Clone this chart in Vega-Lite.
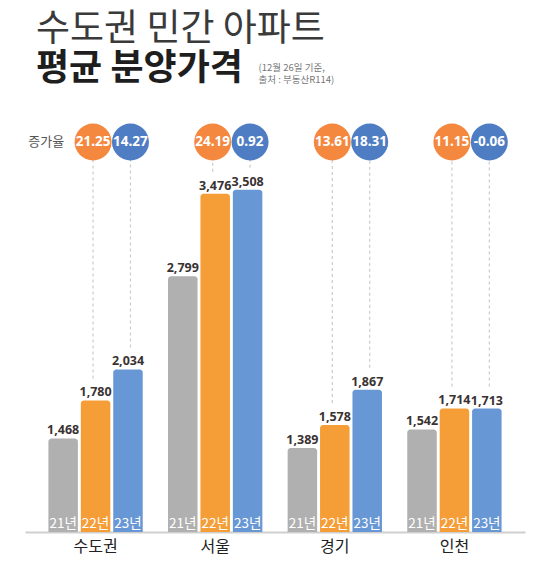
{
  "$schema": "https://vega.github.io/schema/vega-lite/v6.json",
  "width": 500,
  "height": 390,
  "autosize": {"type": "none"},
  "padding": {"left": 25, "top": 142, "right": 15, "bottom": 43},
  "background": "white",
  "config": {"view": {"stroke": null}, "font": "Noto Sans CJK KR"},
  "title": {
    "text": "수도권 민간 아파트",
    "subtitle": "평균 분양가격",
    "anchor": "start",
    "frame": "group",
    "font": "Noto Sans CJK KR",
    "fontSize": 37,
    "fontWeight": "normal",
    "color": "#3a3a3a",
    "subtitleFont": "Noto Sans CJK KR",
    "subtitleFontSize": 36,
    "subtitleFontWeight": "bold",
    "subtitleColor": "#1e1e1e",
    "subtitlePadding": 3,
    "offset": -25,
    "dx": 11
  },
  "data": {
    "values": [
      {"region": "수도권", "year": "21년", "value": 1468},
      {"region": "수도권", "year": "22년", "value": 1780, "rate": 21.25},
      {"region": "수도권", "year": "23년", "value": 2034, "rate": 14.27},
      {"region": "서울", "year": "21년", "value": 2799},
      {"region": "서울", "year": "22년", "value": 3476, "rate": 24.19},
      {"region": "서울", "year": "23년", "value": 3508, "rate": 0.92},
      {"region": "경기", "year": "21년", "value": 1389},
      {"region": "경기", "year": "22년", "value": 1578, "rate": 13.61},
      {"region": "경기", "year": "23년", "value": 1867, "rate": 18.31},
      {"region": "인천", "year": "21년", "value": 1542},
      {"region": "인천", "year": "22년", "value": 1714, "rate": 11.15},
      {"region": "인천", "year": "23년", "value": 1713, "rate": -0.06}
    ]
  },
  "encoding": {
    "x": {
      "field": "region",
      "type": "nominal",
      "sort": null,
      "scale": {"paddingInner": 0, "paddingOuter": 0.09},
      "axis": {
        "title": null,
        "labelAngle": 0,
        "labelFont": "Noto Sans CJK KR",
        "labelFontSize": 16,
        "labelFontWeight": "normal",
        "labelColor": "#222222",
        "labelPadding": 6,
        "ticks": false,
        "tickSize": 0,
        "domainColor": "#cfcfcf",
        "domainWidth": 2,
        "grid": false
      }
    }
  },
  "layer": [
    {
      "encoding": {
        "xOffset": {"field": "year", "type": "nominal", "scale": {"paddingInner": 0.09, "paddingOuter": 0.39}}
      },
      "layer": [
        {
          "mark": {"type": "bar", "cornerRadiusTopLeft": 3, "cornerRadiusTopRight": 3},
          "encoding": {
            "y": {"field": "value", "type": "quantitative", "scale": {"domain": [700, 3900], "nice": false, "zero": false}, "axis": null},
            "y2": {"datum": 700},
            "color": {
              "field": "year",
              "type": "nominal",
              "scale": {"domain": ["21년", "22년", "23년"], "range": ["#B0B0B0", "#F59D36", "#6897D5"]},
              "legend": null
            }
          }
        },
        {
          "mark": {"type": "text", "font": "Noto Sans", "fontWeight": "bold", "fontSize": 12.5, "color": "#3a3232", "baseline": "alphabetic", "dy": -4},
          "encoding": {
            "y": {"field": "value", "type": "quantitative"},
            "text": {"field": "value", "type": "quantitative", "format": ","}
          }
        },
        {
          "mark": {"type": "text", "fontSize": 13.5, "color": "#ffffff", "baseline": "alphabetic", "dy": -4},
          "encoding": {
            "y": {"datum": 700, "type": "quantitative"},
            "text": {"field": "year", "type": "nominal"}
          }
        },
        {
          "transform": [{"filter": "datum.region === '수도권' && datum.year === '21년'"}],
          "mark": {"type": "text", "align": "right", "baseline": "middle", "fontSize": 13, "color": "#555555", "dx": 1},
          "encoding": {
            "y": {"datum": 3900, "type": "quantitative"},
            "text": {"value": "증가율"}
          }
        },
        {
          "transform": [{"filter": "datum.region === '서울' && datum.year === '23년'"}],
          "mark": {"type": "text", "align": "left", "baseline": "top", "fontSize": 9.5, "lineHeight": 12, "color": "#777777", "dx": 11},
          "encoding": {
            "y": {"datum": 4548, "type": "quantitative"},
            "text": {"value": ["(12월 26일 기준,", "출처 : 부동산R114)"]}
          }
        }
      ]
    },
    {
      "transform": [{"filter": "isValid(datum.rate)"}],
      "encoding": {
        "xOffset": {"field": "year", "type": "nominal", "scale": {"domain": ["21년", "22년", "23년"], "paddingInner": 0, "paddingOuter": 0.099, "align": 0.16}}
      },
      "layer": [
        {
          "mark": {"type": "rule", "strokeDash": [3, 3], "color": "#cccccc", "strokeWidth": 1.2, "yOffset": -22},
          "encoding": {
            "y": {"field": "value", "type": "quantitative"},
            "y2": {"datum": 3900}
          }
        },
        {
          "mark": {"type": "point", "shape": "circle", "filled": true, "size": 1369, "opacity": 1, "strokeWidth": 0},
          "encoding": {
            "y": {"datum": 3900, "type": "quantitative"},
            "fill": {
              "field": "year",
              "type": "nominal",
              "scale": {"domain": ["22년", "23년"], "range": ["#F5883F", "#4F7DC4"]},
              "legend": null
            }
          }
        },
        {
          "mark": {"type": "text", "font": "Noto Sans", "fontWeight": "bold", "fontSize": 13.5, "color": "#ffffff", "baseline": "middle"},
          "encoding": {
            "y": {"datum": 3900, "type": "quantitative"},
            "text": {"field": "rate", "type": "nominal"}
          }
        }
      ]
    }
  ],
  "resolve": {"scale": {"xOffset": "independent"}}
}
